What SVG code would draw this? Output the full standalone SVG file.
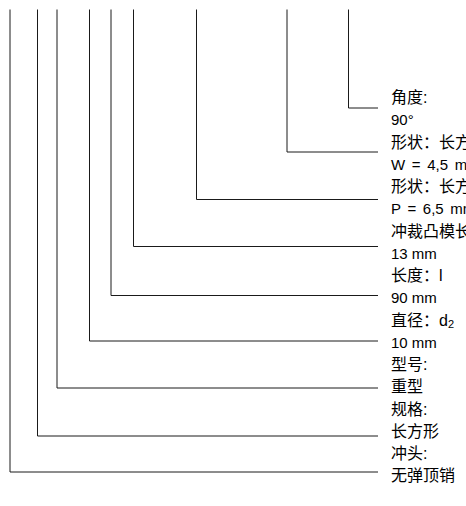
<svg xmlns="http://www.w3.org/2000/svg" width="466" height="506" viewBox="0 0 466 506">
<style>
.c{fill:none;stroke:#1a1a1a;stroke-width:1}
.t{font-family:"Liberation Sans","Noto Sans CJK SC",sans-serif;fill:#000}
.l{font-size:16px}
.v{font-size:15px}
.w{word-spacing:2.5px}
</style>
<rect width="466" height="506" fill="#fff"/>
<g id="connectors">
<polyline class="c" points="348.5,9.5 348.5,108 378,108"/>
<polyline class="c" points="287,9.5 287,152 378,152"/>
<polyline class="c" points="196.5,9.5 196.5,199.5 378,199.5"/>
<polyline class="c" points="133.5,9.5 133.5,246.5 378,246.5"/>
<polyline class="c" points="111,9.5 111,295.5 378,295.5"/>
<polyline class="c" points="89.5,9.5 89.5,341 378,341"/>
<polyline class="c" points="57,9.5 57,388 378,388"/>
<polyline class="c" points="37.5,9.5 37.5,436 378,436"/>
<polyline class="c" points="10,9.5 10,472 378,472"/>
</g>
<g id="angle"><text class="t l" x="391" y="103">角度:</text><text class="t v" x="391" y="125">90°</text></g>
<g id="shape-w"><text class="t l" x="391" y="147.5">形状：长方形</text><text class="t v w" x="391" y="169.5">W = 4,5 mm</text></g>
<g id="shape-p"><text class="t l" x="391" y="192">形状：长方形</text><text class="t v w" x="391" y="214">P = 6,5 mm</text></g>
<g id="punch-tip"><text class="t l" x="391" y="236.5">冲裁凸模长度</text><text class="t v" x="391" y="258.5">13 mm</text></g>
<g id="length"><text class="t l" x="391" y="281">长度：l</text><text class="t v" x="391" y="303">90 mm</text></g>
<g id="diameter"><text class="t l" x="391" y="325.5">直径：d<tspan font-size="11" dy="2">2</tspan></text><text class="t v" x="391" y="347.5">10 mm</text></g>
<g id="type"><text class="t l" x="391" y="370">型号:</text><text class="t l" x="391" y="392">重型</text></g>
<g id="spec"><text class="t l" x="391" y="414.5">规格:</text><text class="t l" x="391" y="436.5">长方形</text></g>
<g id="punch"><text class="t l" x="391" y="459">冲头:</text><text class="t l" x="391" y="481">无弹顶销</text></g>
</svg>
